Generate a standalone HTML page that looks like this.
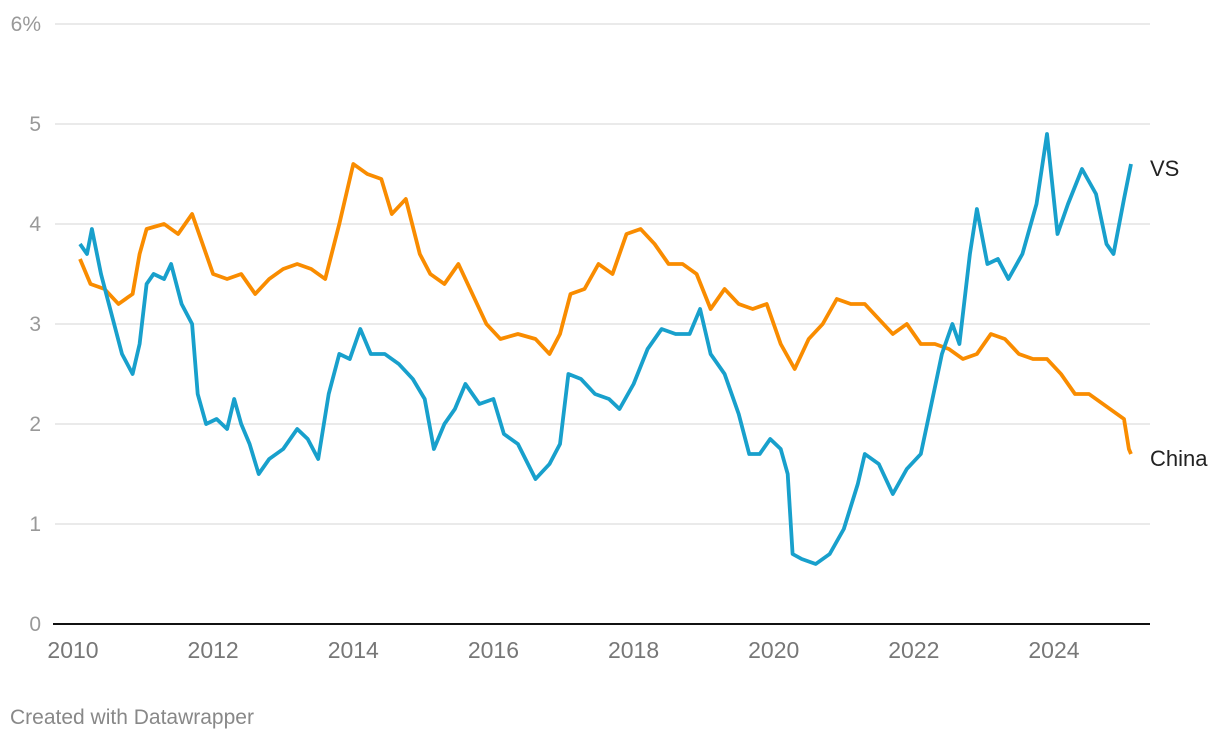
<!DOCTYPE html>
<html><head><meta charset="utf-8"><style>
body{margin:0;background:#fff;font-family:"Liberation Sans",sans-serif}
svg{display:block}
</style></head><body>
<svg id="chart" width="1220" height="740" xmlns="http://www.w3.org/2000/svg">
<g id="grid"></g>
<g id="series"></g>
<g id="xaxis"></g>
<text x="1150" y="176" font-size="22" fill="#222">VS</text>
<text x="1150" y="466" font-size="22" fill="#222">China</text>
<text x="10" y="724" font-size="21" fill="#888">Created with Datawrapper</text>
</svg>
<script>
const yTicks=[0,1,2,3,4,5,6];
const xTicks=[2010,2012,2014,2016,2018,2020,2022,2024];
const usT=[2010.0,2010.1,2010.17,2010.3,2010.45,2010.6,2010.75,2010.85,2010.95,2011.05,2011.2,2011.3,2011.45,2011.6,2011.68,2011.8,2011.95,2012.1,2012.2,2012.3,2012.42,2012.55,2012.7,2012.9,2013.1,2013.25,2013.4,2013.55,2013.7,2013.85,2014.0,2014.15,2014.35,2014.55,2014.75,2014.92,2015.05,2015.2,2015.35,2015.5,2015.7,2015.9,2016.05,2016.25,2016.5,2016.7,2016.85,2016.97,2017.15,2017.35,2017.55,2017.7,2017.9,2018.1,2018.3,2018.5,2018.7,2018.85,2019.0,2019.2,2019.4,2019.55,2019.7,2019.85,2020.0,2020.1,2020.17,2020.3,2020.5,2020.7,2020.9,2021.1,2021.2,2021.4,2021.6,2021.8,2022.0,2022.15,2022.3,2022.45,2022.55,2022.7,2022.8,2022.95,2023.1,2023.25,2023.45,2023.65,2023.8,2023.95,2024.1,2024.3,2024.5,2024.65,2024.75,2024.9,2025.0];
const usV=[3.8,3.7,3.95,3.5,3.1,2.7,2.5,2.8,3.4,3.5,3.45,3.6,3.2,3.0,2.3,2.0,2.05,1.95,2.25,2.0,1.8,1.5,1.65,1.75,1.95,1.85,1.65,2.3,2.7,2.65,2.95,2.7,2.7,2.6,2.45,2.25,1.75,2.0,2.15,2.4,2.2,2.25,1.9,1.8,1.45,1.6,1.8,2.5,2.45,2.3,2.25,2.15,2.4,2.75,2.95,2.9,2.9,3.15,2.7,2.5,2.1,1.7,1.7,1.85,1.75,1.5,0.7,0.65,0.6,0.7,0.95,1.4,1.7,1.6,1.3,1.55,1.7,2.2,2.7,3.0,2.8,3.7,4.15,3.6,3.65,3.45,3.7,4.2,4.9,3.9,4.2,4.55,4.3,3.8,3.7,4.25,4.6];
const cnT=[2010.0,2010.15,2010.35,2010.55,2010.75,2010.85,2010.95,2011.2,2011.4,2011.6,2011.75,2011.9,2012.1,2012.3,2012.5,2012.7,2012.9,2013.1,2013.3,2013.5,2013.7,2013.9,2014.1,2014.3,2014.45,2014.65,2014.85,2015.0,2015.2,2015.4,2015.6,2015.8,2016.0,2016.25,2016.5,2016.7,2016.85,2017.0,2017.2,2017.4,2017.6,2017.8,2018.0,2018.2,2018.4,2018.6,2018.8,2019.0,2019.2,2019.4,2019.6,2019.8,2020.0,2020.2,2020.4,2020.6,2020.8,2021.0,2021.2,2021.4,2021.6,2021.8,2022.0,2022.2,2022.4,2022.6,2022.8,2023.0,2023.2,2023.4,2023.6,2023.8,2024.0,2024.2,2024.4,2024.6,2024.8,2024.9,2024.97,2025.0];
const cnV=[3.65,3.4,3.35,3.2,3.3,3.7,3.95,4.0,3.9,4.1,3.8,3.5,3.45,3.5,3.3,3.45,3.55,3.6,3.55,3.45,4.0,4.6,4.5,4.45,4.1,4.25,3.7,3.5,3.4,3.6,3.3,3.0,2.85,2.9,2.85,2.7,2.9,3.3,3.35,3.6,3.5,3.9,3.95,3.8,3.6,3.6,3.5,3.15,3.35,3.2,3.15,3.2,2.8,2.55,2.85,3.0,3.25,3.2,3.2,3.05,2.9,3.0,2.8,2.8,2.75,2.65,2.7,2.9,2.85,2.7,2.65,2.65,2.5,2.3,2.3,2.2,2.1,2.05,1.75,1.7];
const NS='http://www.w3.org/2000/svg';
const xS=t=>80+(t-2010)*70.07;
const yS=v=>624-v*100;
const grid=document.getElementById('grid');
yTicks.forEach(v=>{
  if(v>0){const l=document.createElementNS(NS,'line');
  l.setAttribute('x1',55);l.setAttribute('x2',1150);l.setAttribute('y1',yS(v));l.setAttribute('y2',yS(v));
  l.setAttribute('stroke','#e3e3e3');l.setAttribute('stroke-width',1.5);
  
  
  grid.appendChild(l);}
  const t=document.createElementNS(NS,'text');
  t.setAttribute('x',41);t.setAttribute('y',yS(v)+7);t.setAttribute('text-anchor','end');
  t.setAttribute('font-size',21);t.setAttribute('fill','#999');
  t.textContent=v===6?'6%':String(v);
  
  
  grid.appendChild(t);
});
const xa=document.getElementById('xaxis');
const base=document.createElementNS(NS,'line');
base.setAttribute('x1',53);base.setAttribute('x2',1150);base.setAttribute('y1',624);base.setAttribute('y2',624);
base.setAttribute('stroke','#111');base.setAttribute('stroke-width',2);


xa.appendChild(base);
xTicks.forEach(y=>{
  const t=document.createElementNS(NS,'text');
  t.setAttribute('x',xS(y)-7);t.setAttribute('y',658);t.setAttribute('text-anchor','middle');
  t.setAttribute('font-size',23);t.setAttribute('fill','#777');t.textContent=y;
  
  
  xa.appendChild(t);
});
const ser=document.getElementById('series');
function draw(T,V,color,name){
  const p=document.createElementNS(NS,'path');
  p.setAttribute('d',T.map((t,i)=>(i?'L':'M')+xS(t).toFixed(1)+','+yS(V[i]).toFixed(1)).join(''));
  p.setAttribute('fill','none');p.setAttribute('stroke',color);p.setAttribute('stroke-width',3.8);
  p.setAttribute('stroke-linejoin','round');
  
  
  ser.appendChild(p);
}
draw(cnT,cnV,'#f98c00','line-china');
draw(usT,usV,'#18a0cc','line-vs');
</script>
</body></html>
